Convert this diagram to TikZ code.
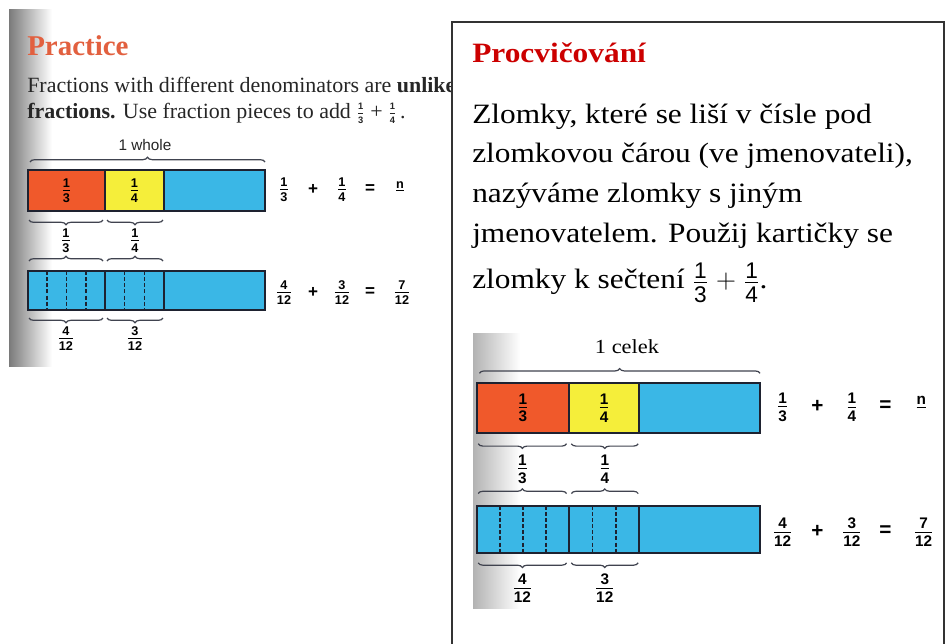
\documentclass[tikz,border=0pt]{standalone}
\usepackage{amsmath}
\usepackage{graphicx}
\usepackage{fontspec}
\setmainfont{Liberation Serif}
\setsansfont{Liberation Sans}
\newfontfamily\czfont[FakeStretch=1.12]{Liberation Serif}
\newfontfamily\enfont[FakeStretch=1.01]{Liberation Serif}
\usetikzlibrary{decorations.pathreplacing}
\definecolor{cOrange}{HTML}{F0592B}
\definecolor{cYellow}{HTML}{F5EE3A}
\definecolor{cBlue}{HTML}{3AB7E6}
\definecolor{cPractice}{HTML}{E2603F}
\definecolor{cTitle}{HTML}{CC0000}
\definecolor{cLine}{HTML}{1E2230}
\newcommand\fr[2]{\ensuremath{\genfrac{}{}{0.7pt}{}{\hbox{\sffamily\bfseries #1}\rule[-0.12em]{0pt}{0pt}}{\hbox{\sffamily\bfseries #2}\rule{0pt}{0.85em}}}}
\newcommand\tfr[2]{\ensuremath{\genfrac{}{}{0.5pt}{}{\hbox{\sffamily\bfseries #1}\rule[-0.3em]{0pt}{0pt}}{\hbox{\sffamily\bfseries #2}\rule{0pt}{1.05em}}}}
\newcommand\mfr[2]{\ensuremath{\genfrac{}{}{0.8pt}{}{\hbox{\sffamily #1}\rule[-0.1em]{0pt}{0pt}}{\hbox{\sffamily #2}\rule{0pt}{0.82em}}}}
\newcommand\op[1]{\scalebox{1.35}{\sffamily\bfseries #1}}
\tikzset{
  bar/.style={draw=cLine, line width=1.6pt},
  dashbar/.style={draw=cLine, line width=1.2pt, dash pattern=on 3pt off 1.6pt},
  bracestyle/.style={draw=cLine!85, line width=0.9pt, decorate, decoration={brace, amplitude=3.5pt}},
  lbl/.style={inner sep=0pt},
}
% #1 prefix, #2 shift, #3 xscale, #4 yscale, #5 font
\newcommand\fracdiagram[5]{%
\begin{scope}[shift={#2}, xscale=#3, yscale=#4, every node/.style={lbl, font=#5}]
  \fill[cOrange] (0,0) rectangle (77,41);
  \fill[cYellow] (77,0) rectangle (136,41);
  \fill[cBlue] (136,0) rectangle (237,41);
  \fill[cBlue] (0,101) rectangle (237,140);
  \foreach \x in {19.25,38.5,57.75,96.67,116.33} \draw[dashbar] (\x,101) -- (\x,140);
  \draw[bar] (0,0) rectangle (237,41) (77,0) -- (77,41) (136,0) -- (136,41);
  \draw[bar] (0,101) rectangle (237,140) (77,101) -- (77,140) (136,101) -- (136,140);
  % braces
  \coordinate (#1ta) at (2,-8);   \coordinate (#1tb) at (237,-8);
  \coordinate (#1ua) at (1,50);   \coordinate (#1ub) at (75,50);
  \coordinate (#1va) at (79,50);  \coordinate (#1vb) at (135,50);
  \coordinate (#1wa) at (1,91);   \coordinate (#1wb) at (75,91);
  \coordinate (#1xa) at (79,91);  \coordinate (#1xb) at (135,91);
  \coordinate (#1ya) at (1,148);  \coordinate (#1yb) at (75,148);
  \coordinate (#1za) at (79,148); \coordinate (#1zb) at (135,148);
  \draw[bracestyle] (#1ta) -- (#1tb);
  \draw[bracestyle] (#1ub) -- (#1ua);
  \draw[bracestyle] (#1vb) -- (#1va);
  \draw[bracestyle] (#1wa) -- (#1wb);
  \draw[bracestyle] (#1xa) -- (#1xb);
  \draw[bracestyle] (#1yb) -- (#1ya);
  \draw[bracestyle] (#1zb) -- (#1za);
  % labels
  \node (#1in1) at (38.5,20.5) {\fr13};
  \node (#1in2) at (106.5,20.5) {\fr14};
  \node (#1b1) at (38,71) {\fr13};
  \node (#1b2) at (107,71) {\fr14};
  \node (#1c1) at (38,169) {\fr{4}{12}};
  \node (#1c2) at (107,169) {\fr{3}{12}};
  % equations
  \node (#1e1) at (256,20) {\fr13};
  \node (#1e2) at (285,19) {\op{+}};
  \node (#1e3) at (314,20) {\fr14};
  \node (#1e4) at (342,19) {\op{=}};
  \node (#1e5) at (372,16) {$\underline{\hbox{\sffamily\bfseries n}}$};
  \node (#1f1) at (256,123) {\fr{4}{12}};
  \node (#1f2) at (285,122) {\op{+}};
  \node (#1f3) at (314,123) {\fr{3}{12}};
  \node (#1f4) at (342,122) {\op{=}};
  \node (#1f5) at (374,123) {\fr{7}{12}};
\end{scope}}

\begin{document}
\begin{tikzpicture}[x=0.75pt, y=-0.75pt]
\useasboundingbox (0,0) rectangle (945,643);
\fill[white] (0,0) rectangle (945,643);
% ---------- left scanned page ----------
\begin{scope}
  \clip (0,0) rectangle (450,643);
  \shade[left color=black!52, right color=white] (9,9) rectangle (52,366);
  \node[lbl, anchor=base west, font=\enfont\fontsize{21.5pt}{24pt}\selectfont\bfseries, text=cPractice] (practice) at (27,55) {Practice};
  \node[lbl, anchor=base west, font=\enfont\fontsize{16.3pt}{18pt}\selectfont, text=black!85] (lline1) at (27,92) {Fractions with different denominators are \textbf{unlike}};
  \node[lbl, anchor=base west, font=\enfont\fontsize{16.3pt}{18pt}\selectfont, text=black!85] (lline2) at (27,118) {\textbf{fractions.} Use fraction pieces to add\ {\fontsize{7pt}{8pt}\selectfont\raisebox{2pt}{\tfr13}}\ +\ {\fontsize{7pt}{8pt}\selectfont\raisebox{2pt}{\tfr14}}\,.};
  \node[lbl, anchor=base, font=\sffamily\fontsize{11.5pt}{13pt}\selectfont, text=black!85] (whole) at (145,150) {1 whole};
  \fracdiagram{L}{(28,170)}{1}{1}{\fontsize{9.5pt}{10pt}\selectfont}
\end{scope}
% ---------- right panel ----------
\draw[line width=1.5pt, draw=black!80] (452,660) -- (452,22) -- (944,22) -- (944,660);
\node[lbl, anchor=base west, font=\czfont\fontsize{21pt}{24pt}\selectfont\bfseries, text=cTitle] (title) at (472,62) {Procvičování};
\begin{scope}[every node/.style={lbl, anchor=base west, font=\czfont\fontsize{21pt}{24pt}\selectfont}]
  \node (r1) at (472,123) {Zlomky, které se liší v čísle pod};
  \node (r2) at (472,162) {zlomkovou čárou (ve jmenovateli),};
  \node (r3) at (472,202) {nazýváme zlomky s jiným};
  \node (r4) at (472,242) {jmenovatelem. Použij kartičky se};
  \node (r5) at (472,288) {zlomky k sečtení {\fontsize{17pt}{18pt}\selectfont\mfr13}\;$+$\;{\fontsize{17pt}{18pt}\selectfont\mfr14}.};
\end{scope}
\shade[left color=black!30, right color=white] (473,333) rectangle (520,608);
\node[lbl, anchor=base, font=\czfont\fontsize{15pt}{17pt}\selectfont] (celek) at (627,353) {1 celek};
\fracdiagram{R}{(477,383)}{1.194}{1.215}{\fontsize{11.5pt}{12pt}\selectfont}
\end{tikzpicture}
\end{document}
